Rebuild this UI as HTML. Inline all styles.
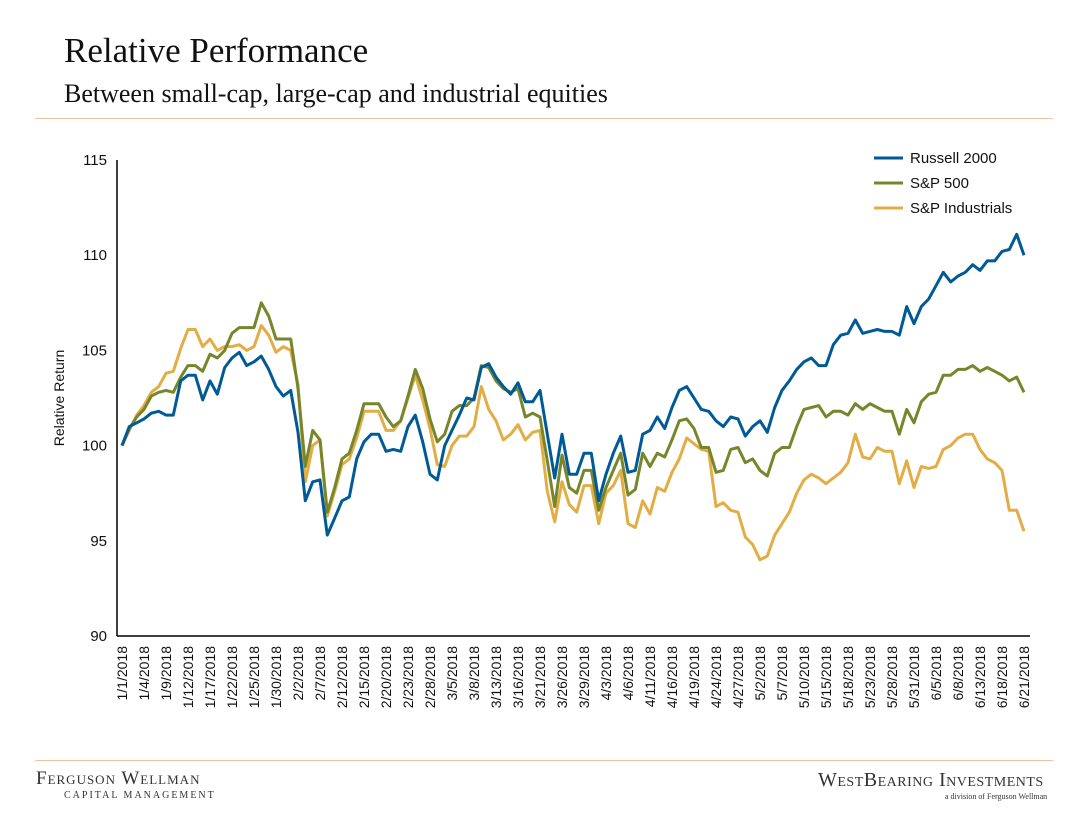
<!DOCTYPE html>
<html><head><meta charset="utf-8"><style>
body{margin:0;background:#fff;width:1087px;height:816px;overflow:hidden;font-family:"Liberation Sans",sans-serif}
.t{position:absolute;font-family:"Liberation Serif",serif;color:#111;white-space:nowrap}
</style></head><body>
<div class="t" style="left:64px;top:31px;font-size:35px">Relative Performance</div>
<div class="t" style="left:64px;top:79px;font-size:26px">Between small-cap, large-cap and industrial equities</div>
<div style="position:absolute;left:35px;top:118px;width:1018px;height:1px;background:#e9c4a8"></div>
<div style="position:absolute;left:35px;top:760px;width:1018px;height:1px;background:#e9c4a8"></div>
<div class="t" style="left:36px;top:768px;font-size:19px;letter-spacing:1px;font-variant:small-caps;color:#333">Ferguson Wellman</div>
<div class="t" style="left:64px;top:790px;font-size:10px;letter-spacing:2px;color:#333">CAPITAL MANAGEMENT</div>
<div class="t" style="left:818px;top:769px;font-size:20px;letter-spacing:0.5px;font-variant:small-caps;color:#333">WestBearing Investments</div>
<div class="t" style="left:945px;top:792px;font-size:8px;color:#333">a division of Ferguson Wellman</div>
<svg id="c" width="1087" height="816" style="position:absolute;left:0;top:0"></svg>
<script>
const dates=["1/1/2018","1/4/2018","1/9/2018","1/12/2018","1/17/2018","1/22/2018","1/25/2018","1/30/2018","2/2/2018","2/7/2018","2/12/2018","2/15/2018","2/20/2018","2/23/2018","2/28/2018","3/5/2018","3/8/2018","3/13/2018","3/16/2018","3/21/2018","3/26/2018","3/29/2018","4/3/2018","4/6/2018","4/11/2018","4/16/2018","4/19/2018","4/24/2018","4/27/2018","5/2/2018","5/7/2018","5/10/2018","5/15/2018","5/18/2018","5/23/2018","5/28/2018","5/31/2018","6/5/2018","6/8/2018","6/13/2018","6/18/2018","6/21/2018"];
const yTicks=[90,95,100,105,110,115];
const russell=[100,101.0,101.2,101.4,101.7,101.8,101.6,101.6,103.4,103.7,103.7,102.4,103.4,102.7,104.1,104.6,104.9,104.2,104.4,104.7,104.0,103.1,102.6,102.9,100.7,97.1,98.1,98.2,95.3,96.2,97.1,97.3,99.3,100.2,100.6,100.6,99.7,99.8,99.7,101.0,101.6,100.2,98.5,98.2,100.0,100.8,101.6,102.5,102.4,104.1,104.3,103.6,103.1,102.7,103.3,102.3,102.3,102.9,100.6,98.3,100.6,98.5,98.5,99.6,99.6,97.1,98.5,99.6,100.5,98.6,98.7,100.6,100.8,101.5,100.9,102.0,102.9,103.1,102.5,101.9,101.8,101.3,101.0,101.5,101.4,100.5,101.0,101.3,100.7,102.0,102.9,103.4,104.0,104.4,104.6,104.2,104.2,105.3,105.8,105.9,106.6,105.9,106.0,106.1,106.0,106.0,105.8,107.3,106.4,107.3,107.7,108.4,109.1,108.6,108.9,109.1,109.5,109.2,109.7,109.7,110.2,110.3,111.1,110.0];
const sp500=[100,100.9,101.5,101.9,102.6,102.8,102.9,102.8,103.6,104.2,104.2,103.9,104.8,104.6,105.0,105.9,106.2,106.2,106.2,107.5,106.8,105.6,105.6,105.6,103.0,98.9,100.8,100.3,96.5,97.8,99.3,99.6,100.8,102.2,102.2,102.2,101.5,101.0,101.3,102.6,104.0,103.0,101.4,100.2,100.6,101.8,102.1,102.1,102.5,104.2,104.1,103.4,103.0,102.8,103.0,101.5,101.7,101.5,99.2,96.8,99.5,97.8,97.5,98.7,98.7,96.6,97.8,98.7,99.6,97.4,97.7,99.6,98.9,99.6,99.4,100.3,101.3,101.4,100.9,99.9,99.9,98.6,98.7,99.8,99.9,99.1,99.3,98.7,98.4,99.6,99.9,99.9,101.0,101.9,102.0,102.1,101.5,101.8,101.8,101.6,102.2,101.9,102.2,102.0,101.8,101.8,100.6,101.9,101.2,102.3,102.7,102.8,103.7,103.7,104.0,104.0,104.2,103.9,104.1,103.9,103.7,103.4,103.6,102.8];
const industrials=[100,100.8,101.6,102.1,102.8,103.1,103.8,103.9,105.1,106.1,106.1,105.2,105.6,105.0,105.2,105.2,105.3,105.0,105.2,106.3,105.8,104.9,105.2,105.0,103.2,98.1,100.0,100.3,96.3,97.6,99.0,99.3,100.4,101.8,101.8,101.8,100.8,100.8,101.3,102.5,103.7,102.4,100.9,99.0,98.9,100.0,100.5,100.5,101.0,103.1,101.9,101.3,100.3,100.6,101.1,100.3,100.7,100.8,97.6,96.0,98.1,96.9,96.5,97.9,97.9,95.9,97.5,97.9,98.7,95.9,95.7,97.1,96.4,97.8,97.6,98.6,99.3,100.4,100.1,99.8,99.7,96.8,97.0,96.6,96.5,95.2,94.8,94.0,94.2,95.3,95.9,96.5,97.5,98.2,98.5,98.3,98.0,98.3,98.6,99.1,100.6,99.4,99.3,99.9,99.7,99.7,98.0,99.2,97.8,98.9,98.8,98.9,99.8,100.0,100.4,100.6,100.6,99.8,99.3,99.1,98.7,96.6,96.6,95.5];
const seriesNames=["Russell 2000","S&P 500","S&P Industrials"];
const svg=document.getElementById('c');const NS="http://www.w3.org/2000/svg";
const X0=122,X1=1024,Y0=636,Y1=160;
const n=russell.length;
const xs=i=>X0+(X1-X0)*i/(n-1);
const ys=v=>Y0-(v-90)/(115-90)*(Y0-Y1);
function mk(t,a){const e=document.createElementNS(NS,t);for(const k in a)e.setAttribute(k,a[k]);svg.appendChild(e);return e;}
let e=mk('line',{x1:117,y1:Y1,x2:117,y2:Y0,stroke:'#000','stroke-width':1.5});


e=mk('line',{x1:117,y1:Y0,x2:1030,y2:Y0,stroke:'#000','stroke-width':1.5});


yTicks.forEach(v=>{const t=mk('text',{x:107,y:ys(v)+5,'text-anchor':'end','font-size':15,fill:'#111'});t.textContent=v;

});
dates.forEach((d,k)=>{const x=xs(k*3);const t=mk('text',{x:0,y:0,'text-anchor':'end','font-size':14,fill:'#111',transform:`translate(${x+5},${Y0+10}) rotate(-90)`});t.textContent=d;

});
e=mk('text',{x:0,y:0,'text-anchor':'middle','font-size':14,fill:'#111',transform:'translate(64,398) rotate(-90)'});e.textContent='Relative Return';


const cols=['#005a96','#77862b','#e3ad45'];
const names=['russell-2000-line','sp500-line','sp-industrials-line'];
[industrials,sp500,russell].forEach((s,j)=>{const idx=2-j;const p=s.map((v,i)=>xs(i).toFixed(1)+','+ys(v).toFixed(1)).join(' ');
const l=mk('polyline',{points:p,fill:'none',stroke:cols[idx],'stroke-width':3,'stroke-linejoin':'round'});

});
seriesNames.forEach((nm,i)=>{const y=158+i*25;const l=mk('line',{x1:874,y1:y,x2:903,y2:y,stroke:cols[i],'stroke-width':3});


const t=mk('text',{x:910,y:y+5,'font-size':15,fill:'#111'});t.textContent=nm;

});
</script>
</body></html>
